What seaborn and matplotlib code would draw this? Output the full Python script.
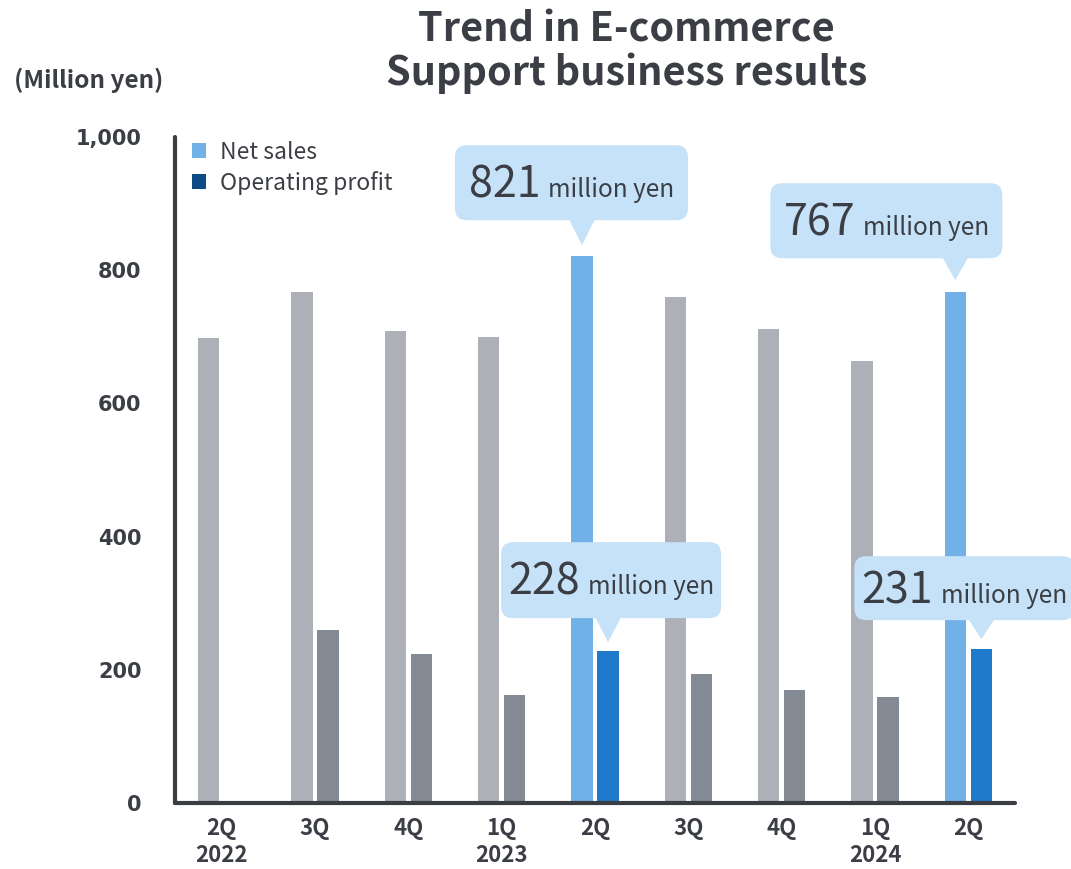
import numpy as np
import pandas as pd
import matplotlib
matplotlib.use("Agg")
import matplotlib.pyplot as plt
from matplotlib.patches import FancyBboxPatch, Polygon, Patch
from matplotlib.transforms import Affine2D, ScaledTranslation
import seaborn as sns

# Quarterly results, E-commerce Support business (million yen)
periods = ["2022 2Q", "2022 3Q", "2022 4Q", "2023 1Q", "2023 2Q",
           "2023 3Q", "2023 4Q", "2024 1Q", "2024 2Q"]
tick_labels = ["2Q\n2022", "3Q", "4Q", "1Q\n2023", "2Q", "3Q", "4Q", "1Q\n2024", "2Q"]
net_sales = [698, 767, 709, 700, 821, 760, 712, 664, 767]
operating_profit = [np.nan, 260, 224, 162, 228, 193, 170, 159, 231]
highlight = [False, False, False, False, True, False, False, False, True]
series_names = ["Net sales", "Operating profit"]
y_ticks = [0, 200, 400, 600, 800, 1000]
y_tick_labels = ["0", "200", "400", "600", "800", "1,000"]

TEXT = "#3b3e44"
GREY = {"Net sales": "#adb0b7", "Operating profit": "#848a94"}
BLUE = {"Net sales": "#72b0e8", "Operating profit": "#1f7acb"}
LEGEND = {"Net sales": "#72b0e8", "Operating profit": "#0e4a86"}
CALLOUT = "#c5e2f9"

sns.set_theme(style="white")
plt.rcParams["font.family"] = ["Noto Sans CJK JP", "DejaVu Sans"]

df = pd.DataFrame({
    "period": periods * 2,
    "series": [series_names[0]] * len(periods) + [series_names[1]] * len(periods),
    "value": net_sales + operating_profit,
})

fig = plt.figure(figsize=(10.71, 8.69), dpi=100)
ax = fig.add_axes([175 / 1071, 66 / 869, 840 / 1071, 666 / 869])

sns.barplot(data=df, x="period", y="value", hue="series", order=periods,
            hue_order=series_names, palette=GREY, width=0.56, gap=0.19,
            errorbar=None, legend=False, linewidth=0, ax=ax)

# colour the highlighted quarters in blue
for p in ax.patches:
    cx = p.get_x() + p.get_width() / 2
    idx = int(round(cx))
    s = series_names[0] if cx < idx else series_names[1]
    p.set_facecolor(BLUE[s] if highlight[idx] else GREY[s])
    p.set_edgecolor("none")

ax.set_xlim(-0.5, len(periods) - 0.5)
ax.set_ylim(0, 1000)
ax.set_yticks(y_ticks)
ax.set_yticklabels(y_tick_labels, fontsize=15, fontweight="bold", color=TEXT,
                   family=["DejaVu Sans"])
ax.set_xticks(range(len(periods)))
ax.set_xticklabels(tick_labels, fontsize=16, fontweight="bold", color=TEXT,
                   linespacing=1.25)
ax.tick_params(axis="y", length=0, pad=24)
ax.tick_params(axis="x", length=0, pad=10)
ax.set_xlabel("")
ax.set_ylabel("")
for side in ["top", "right"]:
    ax.spines[side].set_visible(False)
for side in ["left", "bottom"]:
    ax.spines[side].set_color("#3a3d42")
    ax.spines[side].set_linewidth(3.0)
    ax.spines[side].set_capstyle("round")

handles = [Patch(facecolor=LEGEND[s], edgecolor="none", label=s) for s in series_names]
leg = ax.legend(handles=handles, loc="upper left", bbox_to_anchor=(0.009, 1.008),
                frameon=False, fontsize=16.5, handlelength=0.62, handleheight=0.62,
                handletextpad=0.6, labelspacing=0.3, borderaxespad=0)
for t in leg.get_texts():
    t.set_color(TEXT)

fig.text(0.585, 1 - 52 / 869, "Trend in E-commerce\nSupport business results",
         ha="center", va="center", fontsize=28.5, fontweight="bold", color=TEXT,
         linespacing=1.05)
fig.text(14 / 1071, 1 - 80 / 869, "(Million yen)", ha="left", va="center",
         fontsize=17.5, fontweight="bold", color=TEXT)

# callouts: (category, series, box left, right, bottom, top, tip, baseline) in pixels
callouts = [
    (4, 0, -127, 106, 36, 111, 11, 59),
    (8, 0, -185, 47, 34, 109, 12, 57),
    (4, 1, -107, 113, 33, 109, 9, 57),
    (8, 1, -127, 93, 29, 93, 10, 46),
]
series_values = [net_sales, operating_profit]
offset = 0.14

fig.canvas.draw()
renderer = fig.canvas.get_renderer()
for idx, s, left, right, bottom, top, tip, base in callouts:
    val = series_values[s][idx]
    x = idx + (-offset if s == 0 else offset)
    T = Affine2D() + ScaledTranslation(x, val, ax.transData)
    box = FancyBboxPatch((left, bottom), right - left, top - bottom,
                         boxstyle="round,pad=0,rounding_size=12",
                         facecolor=CALLOUT, edgecolor="none",
                         transform=T, clip_on=False, zorder=5)
    ax.add_patch(box)
    tri = Polygon([(-13, bottom + 1), (13, bottom + 1), (0, tip)], closed=True,
                  facecolor=CALLOUT, edgecolor="none", transform=T,
                  clip_on=False, zorder=5)
    ax.add_patch(tri)
    t1 = ax.text(0, base, f"{val:.0f}", transform=T, fontsize=31, color=TEXT,
                 ha="left", va="baseline", zorder=6)
    t2 = ax.text(0, base, "million yen", transform=T, fontsize=17.5, color=TEXT,
                 ha="left", va="baseline", zorder=6)
    w1 = t1.get_window_extent(renderer).width
    w2 = t2.get_window_extent(renderer).width
    gap = 8
    total = w1 + gap + w2
    start = (left + right) / 2 - total / 2
    t1.set_position((start, base))
    t2.set_position((start + w1 + gap, base))

fig.savefig("out.png", dpi=100)
